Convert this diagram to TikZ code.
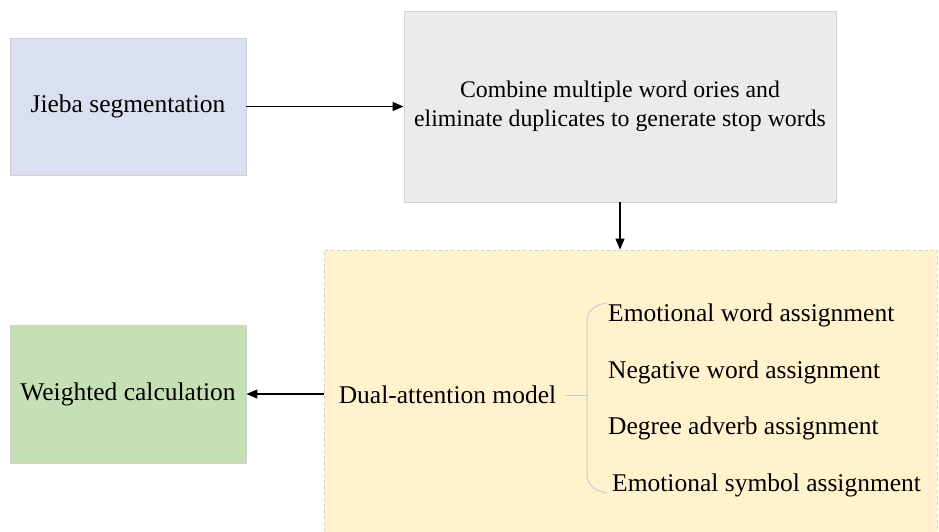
\documentclass[tikz,border=0pt]{standalone}
\usepackage{fontspec}
\setmainfont{Liberation Serif}
\usetikzlibrary{arrows.meta}
\definecolor{bluefill}{HTML}{DAE0F2}
\definecolor{grayfill}{HTML}{EBEBEB}
\definecolor{yellowfill}{HTML}{FFF2CC}
\definecolor{greenfill}{HTML}{C5E0B4}
\definecolor{edgegray}{HTML}{D0D0D0}
\definecolor{bracegray}{HTML}{C8CCD4}
\begin{document}
\begin{tikzpicture}[x=1pt,y=-1pt,
  every node/.style={font=\fontsize{25.5}{29.5}\selectfont},
  box/.style={draw=edgegray, line width=0.9pt, inner sep=0pt, align=center},
  arr/.style={-{Triangle[length=11pt,width=9pt]}, line width=1.3pt, black},
  label/.style={inner sep=0pt, anchor=west}]
\useasboundingbox (0,0) rectangle (939,531);
\clip (0,0) rectangle (939,531);
\fill[white] (0,0) rectangle (939,531);
% boxes
\node[box, fill=bluefill, minimum width=236pt, minimum height=137pt] (jieba) at (128,106.5) {Jieba segmentation};
\node[box, fill=grayfill, minimum width=432pt, minimum height=191pt,
  font=\fontsize{23.8}{29}\selectfont] (combine) at (620,106.5)
  {Combine multiple word ories and\\eliminate duplicates to generate stop words};
\node[box, fill=yellowfill, draw=edgegray, dashed, minimum width=613pt, minimum height=290pt] (attbox) at (630.5,395) {};
\node[box, fill=greenfill, minimum width=236pt, minimum height=138pt] (weighted) at (128,394) {Weighted calculation};
% inside attention box
\node[inner sep=0pt] (dual) at (447.5,395) {Dual-attention model};
\node[label] (e1) at (608,315) {Emotional word assignment};
\node[label] (e2) at (608,372) {Negative word assignment};
\node[label] (e3) at (608,428) {Degree adverb assignment};
\node[label] (e4) at (612,485) {Emotional symbol assignment};
\coordinate (bx) at (587,395);
\draw[bracegray, line width=1pt] ([xshift=9pt]dual.east) -- (bx);
\draw[bracegray, line width=1pt] ([xshift=-1pt,yshift=12pt]e1.west)
  .. controls (594,305) and (587,311) .. (587,322) -- (587,474)
  .. controls (587,484) and (594,491) .. ([xshift=-5pt,yshift=-8pt]e4.west);
% arrows
\draw[arr] (jieba) -- (combine);
\draw[arr] (combine.south) -- (combine.south |- attbox.north);
\draw[arr] (attbox.west |- weighted) -- (weighted.east);
\end{tikzpicture}
\end{document}
